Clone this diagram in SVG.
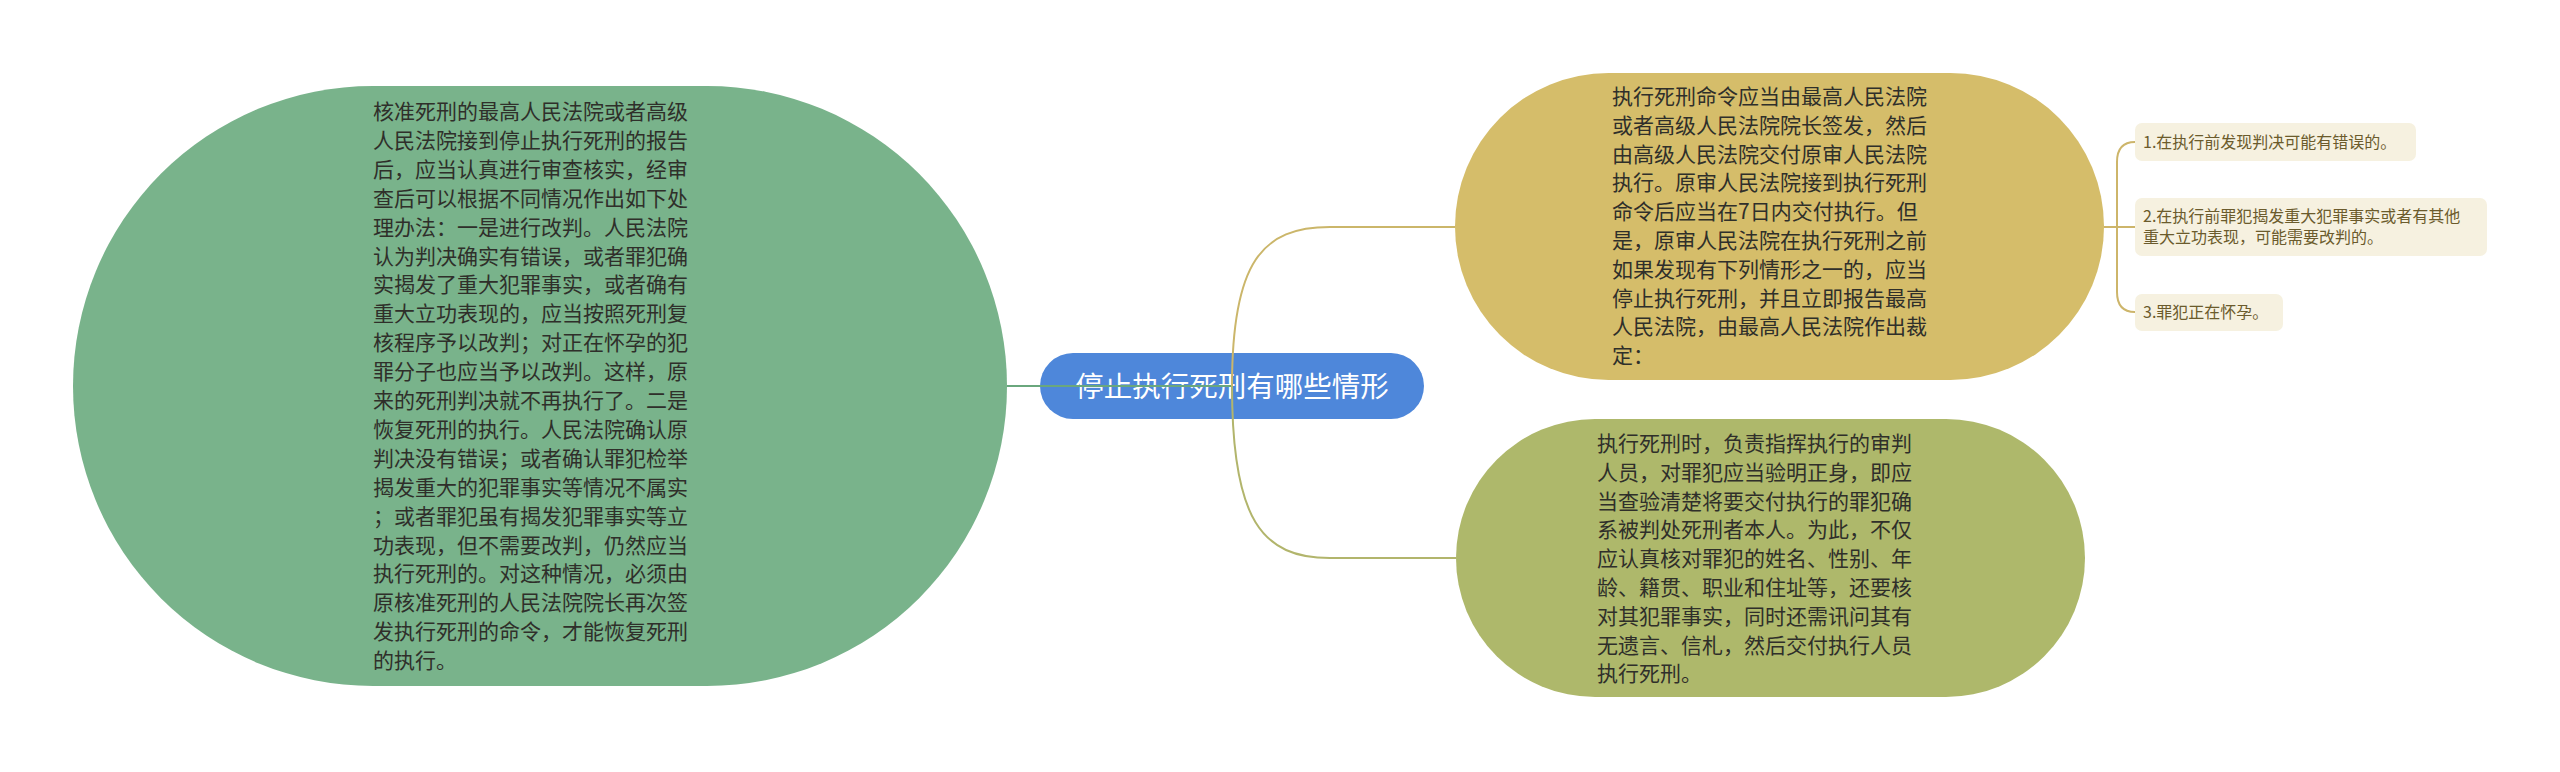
<svg xmlns="http://www.w3.org/2000/svg" width="2560" height="772" viewBox="0 0 2560 772">
<style>
.t{font-family:"Noto Sans CJK SC","Noto Sans",sans-serif;font-size:21px;fill:#2f2f2a}
.c{font-family:"Noto Sans CJK SC","Noto Sans",sans-serif;font-size:16px;fill:#6b5b2c}
.m{font-family:"Noto Sans CJK SC","Noto Sans",sans-serif;font-size:28.5px;fill:#ffffff}
.leaf{fill:#f6f1e0}
.ln{fill:none;stroke-width:2}
</style>
<rect width="2560" height="772" fill="#ffffff"/>
<g id="node-left">
<rect x="73" y="86" width="934" height="600" rx="300" ry="300" fill="#79b38b"/>
<text class="t">
<tspan x="373" y="119">核准死刑的最高人民法院或者高级</tspan>
<tspan x="373" y="147.9">人民法院接到停止执行死刑的报告</tspan>
<tspan x="373" y="176.8">后，应当认真进行审查核实，经审</tspan>
<tspan x="373" y="205.7">查后可以根据不同情况作出如下处</tspan>
<tspan x="373" y="234.6">理办法：一是进行改判。人民法院</tspan>
<tspan x="373" y="263.5">认为判决确实有错误，或者罪犯确</tspan>
<tspan x="373" y="292.4">实揭发了重大犯罪事实，或者确有</tspan>
<tspan x="373" y="321.3">重大立功表现的，应当按照死刑复</tspan>
<tspan x="373" y="350.2">核程序予以改判；对正在怀孕的犯</tspan>
<tspan x="373" y="379.1">罪分子也应当予以改判。这样，原</tspan>
<tspan x="373" y="408">来的死刑判决就不再执行了。二是</tspan>
<tspan x="373" y="436.9">恢复死刑的执行。人民法院确认原</tspan>
<tspan x="373" y="465.8">判决没有错误；或者确认罪犯检举</tspan>
<tspan x="373" y="494.7">揭发重大的犯罪事实等情况不属实</tspan>
<tspan x="373" y="523.6">；或者罪犯虽有揭发犯罪事实等立</tspan>
<tspan x="373" y="552.5">功表现，但不需要改判，仍然应当</tspan>
<tspan x="373" y="581.4">执行死刑的。对这种情况，必须由</tspan>
<tspan x="373" y="610.3">原核准死刑的人民法院院长再次签</tspan>
<tspan x="373" y="639.2">发执行死刑的命令，才能恢复死刑</tspan>
<tspan x="373" y="668.1">的执行。</tspan>
</text>
</g>
<g id="node-center">
<rect x="1040" y="353" width="384" height="66" rx="33" ry="33" fill="#4e87da"/>
<text class="m" x="1232" y="397" text-anchor="middle">停止执行死刑有哪些情形</text>
</g>
<g id="node-gold">
<rect x="1455" y="73" width="649" height="307" rx="153.5" ry="153.5" fill="#d5bd6a"/>
<text class="t">
<tspan x="1612" y="104">执行死刑命令应当由最高人民法院</tspan>
<tspan x="1612" y="132.8">或者高级人民法院院长签发，然后</tspan>
<tspan x="1612" y="161.6">由高级人民法院交付原审人民法院</tspan>
<tspan x="1612" y="190.4">执行。原审人民法院接到执行死刑</tspan>
<tspan x="1612" y="219.2">命令后应当在7日内交付执行。但</tspan>
<tspan x="1612" y="248">是，原审人民法院在执行死刑之前</tspan>
<tspan x="1612" y="276.8">如果发现有下列情形之一的，应当</tspan>
<tspan x="1612" y="305.6">停止执行死刑，并且立即报告最高</tspan>
<tspan x="1612" y="334.4">人民法院，由最高人民法院作出裁</tspan>
<tspan x="1612" y="363.2">定：</tspan>
</text>
</g>
<g id="node-olive">
<rect x="1456" y="419" width="629" height="278" rx="139" ry="139" fill="#aeb86b"/>
<text class="t">
<tspan x="1597" y="451">执行死刑时，负责指挥执行的审判</tspan>
<tspan x="1597" y="479.8">人员，对罪犯应当验明正身，即应</tspan>
<tspan x="1597" y="508.6">当查验清楚将要交付执行的罪犯确</tspan>
<tspan x="1597" y="537.4">系被判处死刑者本人。为此，不仅</tspan>
<tspan x="1597" y="566.2">应认真核对罪犯的姓名、性别、年</tspan>
<tspan x="1597" y="595">龄、籍贯、职业和住址等，还要核</tspan>
<tspan x="1597" y="623.8">对其犯罪事实，同时还需讯问其有</tspan>
<tspan x="1597" y="652.6">无遗言、信札，然后交付执行人员</tspan>
<tspan x="1597" y="681.4">执行死刑。</tspan>
</text>
</g>
<g id="leaf-1">
<rect class="leaf" x="2135" y="123" width="281" height="38" rx="7"/>
<text class="c" x="2143" y="147.5">1.在执行前发现判决可能有错误的。</text>
</g>
<g id="leaf-2">
<rect class="leaf" x="2135" y="198" width="352" height="58" rx="7"/>
<text class="c"><tspan x="2143" y="222">2.在执行前罪犯揭发重大犯罪事实或者有其他</tspan><tspan x="2143" y="243">重大立功表现，可能需要改判的。</tspan></text>
</g>
<g id="leaf-3">
<rect class="leaf" x="2135" y="294" width="148" height="37" rx="7"/>
<text class="c" x="2143" y="318">3.罪犯正在怀孕。</text>
</g>
<g id="connectors">
<path class="ln" stroke="#6aa77d" d="M1232,386 L1007,386"/>
<path class="ln" stroke="#cbb66a" d="M1232,386 C1232,262 1262,227 1330,227 L1455,227"/>
<path class="ln" stroke="#b2b56c" d="M1232,386 C1232,520 1262,558 1330,558 L1456,558"/>
<path class="ln" stroke="#cdb56a" d="M2104,227 L2135,227 M2117,227 L2117,162 Q2117,142 2135,142 M2117,227 L2117,292 Q2117,312 2135,312"/>
</g>
</svg>
